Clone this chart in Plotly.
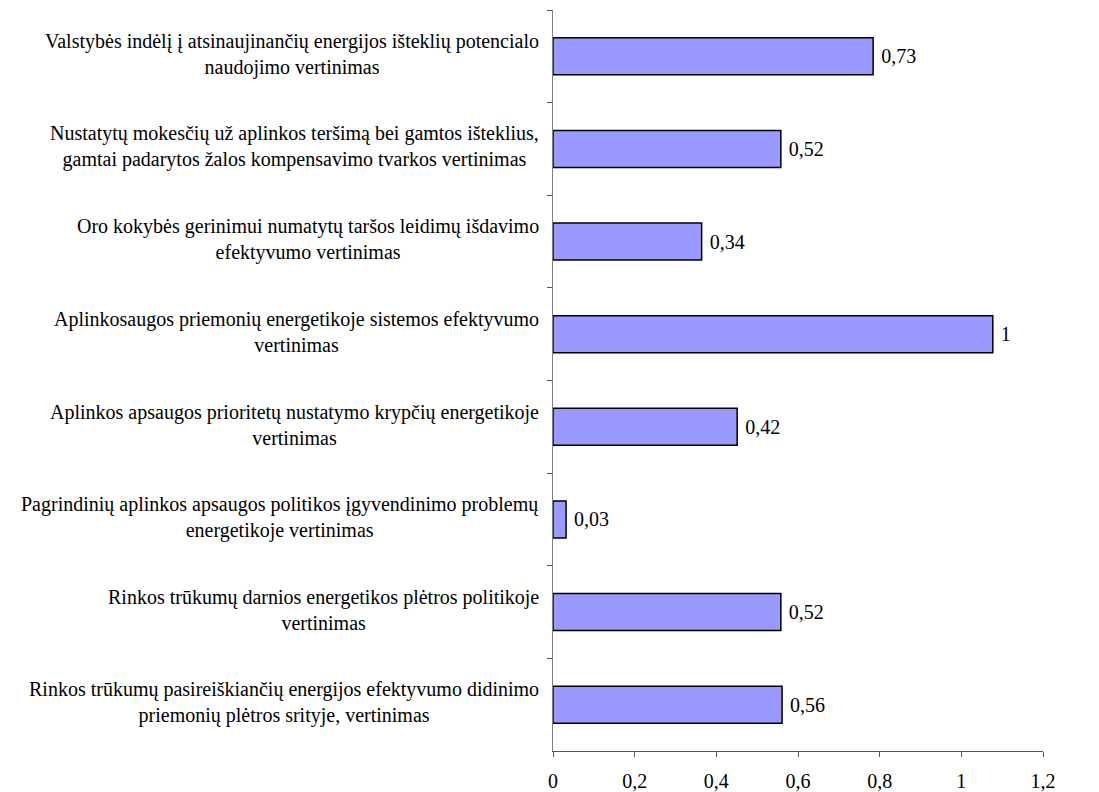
import plotly.graph_objects as go

categories = [
    "Valstybės indėlį į atsinaujinančių energijos išteklių potencialo<br>naudojimo vertinimas",
    "Nustatytų mokesčių už aplinkos teršimą bei gamtos išteklius,<br>gamtai padarytos žalos kompensavimo tvarkos vertinimas",
    "Oro kokybės gerinimui numatytų taršos leidimų išdavimo<br>efektyvumo vertinimas",
    "Aplinkosaugos priemonių energetikoje sistemos efektyvumo<br>vertinimas",
    "Aplinkos apsaugos prioritetų nustatymo krypčių energetikoje<br>vertinimas",
    "Pagrindinių aplinkos apsaugos politikos įgyvendinimo problemų<br>energetikoje vertinimas",
    "Rinkos trūkumų darnios energetikos plėtros politikoje<br>vertinimas",
    "Rinkos trūkumų pasireiškiančių energijos efektyvumo didinimo<br>priemonių plėtros srityje, vertinimas",
]
# bar lengths as drawn against the axis
bar_values = [0.784, 0.558, 0.364, 1.077, 0.451, 0.032, 0.558, 0.561]
# value labels as printed next to the bars
value_labels = ["0,73", "0,52", "0,34", "1", "0,42", "0,03", "0,52", "0,56"]
x_ticks = [0, 0.2, 0.4, 0.6, 0.8, 1.0, 1.2]
x_tick_labels = ["0", "0,2", "0,4", "0,6", "0,8", "1", "1,2"]

FONT = "Liberation Serif, Times New Roman, serif"

fig = go.Figure(
    go.Bar(
        y=categories,
        x=bar_values,
        orientation="h",
        width=0.4,
        marker=dict(color="#9999FF", line=dict(color="#000000", width=1.5)),
        text=value_labels,
        texttemplate=" %{text}",
        textposition="outside",
        textfont=dict(family=FONT, size=20, color="#000000"),
        cliponaxis=False,
    )
)

for c in categories:
    fig.add_annotation(
        x=0, xref="paper", y=c, yref="y",
        text=c, showarrow=False, xanchor="right", yanchor="middle",
        align="center", xshift=-12, yshift=2,
        font=dict(family=FONT, size=20, color="#000000"),
    )

fig.update_layout(
    width=1099, height=792,
    margin=dict(l=553, r=56, t=10, b=41, autoexpand=False),
    plot_bgcolor="#FFFFFF", paper_bgcolor="#FFFFFF",
    showlegend=False,
    font=dict(family=FONT, size=20, color="#000000"),
)
fig.update_xaxes(
    range=[0, 1.2], tickvals=x_ticks, ticktext=x_tick_labels,
    showgrid=False, zeroline=False, showline=True, linecolor="#555555", linewidth=1,
    ticks="outside", ticklen=5, tickcolor="#555555", ticklabelstandoff=7,
    automargin=False,
    tickfont=dict(family=FONT, size=20, color="#000000"),
)
fig.update_yaxes(
    autorange="reversed", showticklabels=False, showgrid=False, automargin=False,
    showline=True, linecolor="#808080", linewidth=1,
    ticks="outside", ticklen=5, tickcolor="#555555", tickson="boundaries",
)

fig.write_html("out.html")
